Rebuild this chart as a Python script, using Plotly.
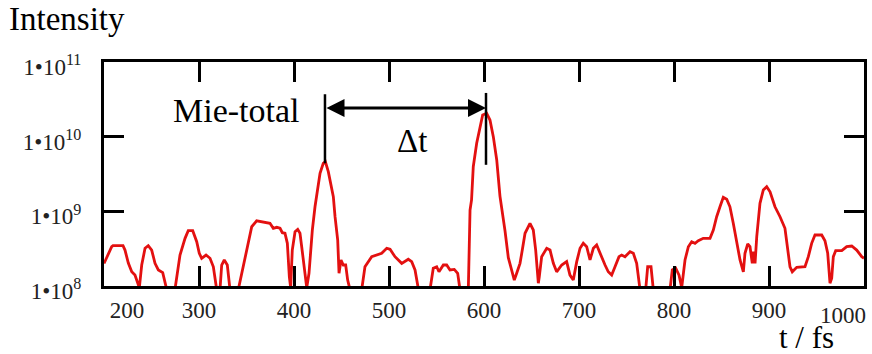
import plotly.graph_objects as go

# time axis (fs) and intensity
t_fs = [200, 208.1, 209.5, 220, 222.1, 225.6, 229.2, 232.6, 237.2, 239.7, 243.2, 246.6, 250.2, 253.7, 257.2,
        261.8, 266, 274.7, 280, 285.3, 288.7, 293.4, 297.6, 300.3, 302.8, 307.4, 311.6, 315.1, 318.6, 322.1,
        323.9, 326.6, 329.8, 332.6, 341.4, 350.2, 355.5, 360.7, 369.5, 374.7, 378.2, 381.8, 385.3, 387.7,
        390.5, 393, 395.1, 396.5, 398.2, 401.1, 403.9, 406.3, 408.1, 411.6, 413.4, 415.8, 419.3, 422.1,
        425, 427.4, 430.8, 433, 436.1, 438.9, 441.4, 443.2, 446, 447.4, 449.5, 451.9, 454.4, 456.5, 458.9,
        471.3, 474.7, 481.8, 487.1, 492.3, 497.6, 501.1, 506.3, 513.4, 520.3, 523.9, 527.4, 531, 543.2,
        546.6, 550.2, 552.6, 557.2, 560.7, 564.2, 568.7, 572.3, 574.7, 583.5, 584.5, 585.3, 586.9, 588.7,
        592.3, 595.8, 598.6, 602.8, 606.3, 609.8, 613.4, 616.8, 620.3, 622.1, 625.6, 629.2, 631.9, 634.4,
        637.9, 640.3, 643.2, 648.4, 651.9, 654.4, 657.2, 658.2, 660.7, 666, 669.5, 673, 676.5, 681.8, 687,
        690.5, 694, 697.6, 701.1, 704.5, 708.1, 711.6, 715.1, 718.6, 722.1, 727.4, 730.8, 734.4, 737.9,
        742.1, 744.9, 748.4, 753.7, 757.2, 760.7, 764.2, 770.2, 772.3, 775.8, 778.2, 795.8, 798.2, 801.8,
        805.3, 808.1, 811.6, 815.1, 818.6, 822.1, 825.6, 830.8, 837.9, 841.4, 844.9, 848.4, 851.9, 855.5,
        858.9, 862.4, 866, 869.5, 873, 874.7, 877.6, 880, 882.4, 883.5, 885.3, 887.1, 890.5, 894, 897.6,
        901.1, 906.3, 911.6, 916.8, 919.7, 922.1, 924.5, 929.2, 937.9, 941.4, 944.9, 948.4, 955.5, 958.9,
        961.8, 964.2, 966, 967.7, 970.2, 976.6, 981.8, 987.1, 992.3, 997.6, 1000]

intensity = [2.0e8, 3.36e8, 3.47e8, 3.47e8, 3.03e8, 2.03e8, 1.55e8, 1.40e8, 9.5e7, 1.91e8, 3.20e8, 3.47e8,
             3.03e8, 2.01e8, 1.64e8, 1.51e8, 9e7, 9e7, 2.60e8, 4.35e8, 5.50e8, 5.50e8, 3.92e8, 2.74e8, 2.35e8,
             2.60e8, 2.35e8, 1.81e8, 9e7, 9e7, 1.91e8, 2.23e8, 1.91e8, 9e7, 9e7, 3.03e8, 6.22e8, 7.45e8,
             7.04e8, 6.92e8, 5.93e8, 6.11e8, 5.93e8, 5.17e8, 5.08e8, 3.73e8, 1.33e8, 9.5e7, 3.03e8, 5.34e8,
             5.74e8, 5.08e8, 3.36e8, 1.48e8, 9.5e7, 1.48e8, 5.62e8, 1.15e9, 1.93e9, 3.23e9, 4.40e9, 4.62e9,
             3.40e9, 2.37e9, 1.57e9, 8.47e8, 4.13e8, 1.48e8, 2.23e8, 1.91e8, 1.91e8, 1.20e8, 9e7, 9e7,
             1.81e8, 2.47e8, 2.60e8, 2.74e8, 3.20e8, 3.10e8, 2.47e8, 2.01e8, 2.28e8, 2.12e8, 1.64e8, 9e7, 9e7,
             1.73e8, 1.81e8, 1.55e8, 1.91e8, 1.91e8, 1.64e8, 1.67e8, 1.48e8, 9e7, 9e7, 5.08e8, 1.04e9, 1.42e9,
             3.96e9, 8.15e9, 1.36e10, 1.95e10, 2.06e10, 1.67e10, 1.0e10, 4.87e9, 1.6e9, 8.5e8, 5.5e8, 2.4e8,
             1.55e8, 1.20e8, 1.48e8, 2.01e8, 3.03e8, 5.08e8, 6.92e8, 5.62e8, 3.03e8, 1.09e8, 1.33e8, 2.47e8,
             3.20e8, 3.03e8, 2.01e8, 1.55e8, 1.91e8, 2.12e8, 1.40e8, 1.20e8, 2.12e8, 3.20e8, 3.73e8, 3.36e8,
             2.23e8, 3.20e8, 3.54e8, 2.74e8, 1.91e8, 1.55e8, 1.40e8, 1.81e8, 2.47e8, 2.60e8, 2.47e8, 2.88e8,
             2.74e8, 2.01e8, 9e7, 9e7, 1.81e8, 1.81e8, 9e7, 9e7, 1.64e8, 1.73e8, 1.40e8, 9.5e7, 2.23e8,
             3.36e8, 3.92e8, 3.73e8, 4.04e8, 4.35e8, 4.35e8, 5.62e8, 8.47e8, 1.15e9, 1.54e9, 1.45e9, 1.15e9,
             6.92e8, 4.13e8, 2.23e8, 1.55e8, 2.74e8, 3.65e8, 3.36e8, 2.01e8, 2.88e8, 2.01e8, 4.57e8, 1.28e9,
             1.93e9, 2.14e9, 1.83e9, 1.15e9, 8.47e8, 5.93e8, 3.36e8, 1.81e8, 1.55e8, 1.78e8, 1.81e8, 2.47e8,
             3.73e8, 4.82e8, 4.82e8, 4.04e8, 2.74e8, 1.09e8, 1.27e8, 2.47e8, 2.97e8, 2.97e8, 3.36e8, 3.43e8,
             3.03e8, 2.47e8, 2.35e8]

x_tick_vals = [200, 300, 400, 500, 600, 700, 800, 900]
x_tick_text = ["\u00a0" * 8 + "200", "300", "400", "500", "600", "700", "800", "900"]
x_last_tick = 1000
x_last_label = "1000"
y_tick_vals = [1e8, 1e9, 1e10, 1e11]
y_exponents = ["8", "9", "10", "11"]
y_tick_text = ["1\u202210<sup>%s</sup>" % e for e in y_exponents]

# marked peaks for the Δt annotation
peak_times = [432.6, 602.1]

FONT = "Liberation Serif"

fig = go.Figure()
fig.add_trace(go.Scatter(x=t_fs, y=intensity, mode="lines",
                         line=dict(color="#e31010", width=2.8), showlegend=False,
                         hoverinfo="skip"))

# vertical marker lines
fig.add_shape(type="line", x0=peak_times[0], x1=peak_times[0], y0=4.4e9, y1=3.7e10,
              xref="x", yref="y", line=dict(color="black", width=2.5))
fig.add_shape(type="line", x0=peak_times[1], x1=peak_times[1], y0=4.2e9, y1=3.85e10,
              xref="x", yref="y", line=dict(color="black", width=2.5))

# double arrow (annotation coords on log axis are log10 values)
fig.add_annotation(x=peak_times[1], y=10.384, ax=peak_times[0], ay=10.384,
                   xref="x", yref="y", axref="x", ayref="y", text="",
                   showarrow=True, arrowhead=2, startarrowhead=2, arrowside="end+start",
                   arrowsize=1.2, startarrowsize=1.2, arrowwidth=3, arrowcolor="black",
                   standoff=0, startstandoff=0)

fig.add_annotation(x=524, y=9.942, xref="x", yref="y", text="\u0394t", showarrow=False,
                   font=dict(family=FONT, size=33, color="black"))
fig.add_annotation(x=339, y=10.344, xref="x", yref="y", text="Mie-total", showarrow=False,
                   font=dict(family=FONT, size=34, color="black"))
fig.add_annotation(x=-0.128, y=1.19, xref="paper", yref="paper", text="Intensity",
                   showarrow=False, xanchor="left", yanchor="middle",
                   font=dict(family=FONT, size=33, color="black"))
fig.add_annotation(x=0.924, y=-0.228, xref="paper", yref="paper", text="t / fs",
                   showarrow=False, xanchor="center", yanchor="middle",
                   font=dict(family=FONT, size=31, color="black"))
# last x tick label, nudged inside the frame like the reference
fig.add_annotation(x=x_last_tick, y=0, xref="x", yref="paper", text=x_last_label,
                   showarrow=False, xanchor="center", yanchor="top", xshift=-21, yshift=-15,
                   font=dict(family=FONT, size=23, color="#222"))

fig.update_xaxes(range=[200, 1000], tickvals=x_tick_vals, ticktext=x_tick_text,
                 ticks="inside", ticklen=20, tickwidth=2.5, tickcolor="black",
                 showline=True, linewidth=3, linecolor="black", mirror="allticks",
                 showgrid=False, zeroline=False, ticklabelstandoff=1, automargin=False,
                 tickfont=dict(family=FONT, size=23, color="#222"))
fig.update_yaxes(type="log", range=[8, 11], tickvals=y_tick_vals, ticktext=y_tick_text,
                 ticks="inside", ticklen=20, tickwidth=2.5, tickcolor="black",
                 showline=True, linewidth=3, linecolor="black", mirror="allticks",
                 showgrid=False, zeroline=False, ticklabelstandoff=15, ticklabelshift=5,
                 automargin=False,
                 tickfont=dict(family=FONT, size=23, color="#222"))

fig.update_layout(width=872, height=354, margin=dict(l=104, r=8, t=62, b=68),
                  plot_bgcolor="white", paper_bgcolor="white", showlegend=False,
                  font=dict(family=FONT))

fig.write_html("out.html")
